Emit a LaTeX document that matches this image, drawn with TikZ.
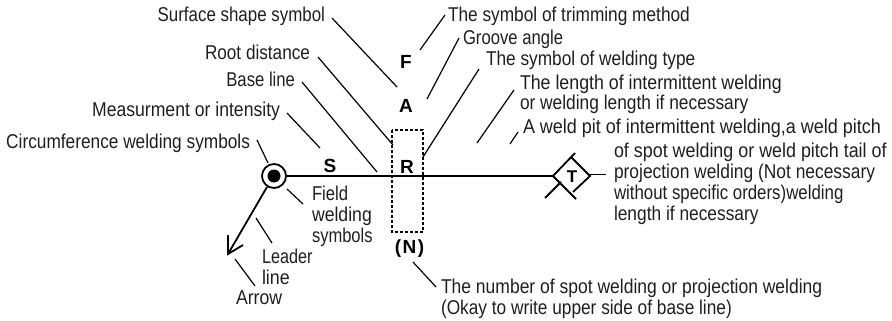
\documentclass[tikz,border=0pt]{standalone}
\usepackage{fontspec}
\usepackage{graphicx}
\setmainfont[FakeStretch=0.81]{Liberation Sans}
\newfontfamily\symf[FakeStretch=1.0]{Liberation Sans}
\newcommand{\hs}[2]{\scalebox{#1}[1]{#2}}
\begin{document}
\begin{tikzpicture}[x=1pt,y=-1pt,
  lbl/.style={inner sep=0pt,outer sep=0pt,anchor=base west,font=\fontsize{20}{22}\selectfont,text=black!88},
  lblr/.style={lbl,anchor=base east},
  sym/.style={inner sep=0pt,outer sep=0pt,anchor=base,font=\symf\bfseries\fontsize{19}{20}\selectfont},
  conn/.style={line width=1.2pt,line cap=butt},
  heavy/.style={line width=1.8pt},
  dashbox/.style={line width=1.1pt,dash pattern=on 3pt off 2pt}]
\useasboundingbox (0,0) rectangle (892,321);
% labels
\node[lblr] (surf) at (325,22) {\hs{1.044}{Surface shape symbol}};
\node[lblr] (root) at (310,60) {\hs{1.06}{Root distance}};
\node[lblr] (base) at (295,86) {\hs{1.03}{Base line}};
\node[lblr] (meas) at (280,116) {\hs{1.087}{Measurment or intensity}};
\node[lblr] (circ) at (250,148) {\hs{1.066}{Circumference welding symbols}};
\node[lbl] (trim) at (448,22) {\hs{1.066}{The symbol of trimming method}};
\node[lbl] (groove) at (463,45) {\hs{1.03}{Groove angle}};
\node[lbl] (wtype) at (486,66) {\hs{1.066}{The symbol of welding type}};
\node[lbl] (len1) at (520,90) {\hs{1.097}{The length of intermittent welding}};
\node[lbl] (len2) at (520,110) {\hs{1.07}{or welding length if necessary}};
\node[lbl] (pit1) at (523,133) {\hs{1.11}{A weld pit of intermittent welding,a weld pitch}};
\node[lbl] (pit2) at (614,157) {\hs{1.105}{of spot welding or weld pitch tail of}};
\node[lbl] (pit3) at (614,178) {\hs{1.074}{projection welding (Not necessary}};
\node[lbl] (pit4) at (614,199) {\hs{1.04}{without specific orders)welding}};
\node[lbl] (pit5) at (614,220) {\hs{1.07}{length if necessary}};
\node[lbl] (num1) at (441,293) {\hs{1.08}{The number of spot welding or projection welding}};
\node[lbl] (num2) at (441,314) {\hs{1.066}{(Okay to write upper side of base line)}};
\node[lbl] (fld1) at (312,200) {\hs{1.03}{Field}};
\node[lbl] (fld2) at (312,221) {\hs{1.09}{welding}};
\node[lbl] (fld3) at (312,242) {\hs{1.02}{symbols}};
\node[lbl] (lead1) at (262,263) {Leader};
\node[lbl] (lead2) at (262,284) {\hs{1.1}{line}};
\node[lbl] (arw) at (236,304) {\hs{1.09}{Arrow}};
% symbols
\node[sym] (F) at (406,69) {F};
\node[sym] (A) at (406,112) {A};
\node[sym] (R) at (407,173) {R};
\node[sym] (S) at (330,172) {S};
\node[sym] (N) at (409.5,253) {(\kern1.5pt N\kern1.5pt)};
\node[sym,font=\symf\bfseries\fontsize{17}{20}\selectfont] (T) at (572,182) {T};
% weld symbol at left end
\node[circle,draw,line width=1.8pt,minimum size=24pt,inner sep=0pt] (ring) at (274,176) {};
\node[circle,fill=black,minimum size=13pt,inner sep=0pt] (dot) at (274,176) {};
\coordinate (dl) at (553,176);
\coordinate (dr) at (590,176);
\coordinate (lt) at (228,254);
\draw[heavy] (ring) -- (dl);
\draw[heavy] (267,187) -- (lt);
\draw[heavy] (228,235) -- (lt) -- (243,245);
% diamond tail
\draw[heavy] (575,153) -- (dl) -- (576,199);
\draw[heavy] (571,157) -- (dr) -- (573,192);
\draw[heavy] (545,198) -- (561,182);
\draw[conn] (590,174.5) -- (606,174.5);
% dashed box
\draw[dashbox] (392,130) rectangle (423,232);
% connectors
\draw[conn] (332,18) -- (397,87);
\draw[conn] (318,57) -- (393,145);
\draw[conn] (302,82) -- (377,172);
\draw[conn] (287,113) -- (320,148);
\draw[conn] (257,140) -- (268,163);
\draw[conn] (445,15) -- (420,50);
\draw[conn] (459,38) -- (427,99);
\draw[conn] (479,69) -- (423,157);
\draw[conn] (514,90) -- (477,143);
\draw[conn] (518,132) -- (510,144);
\draw[conn] (287,189) -- (303,204);
\draw[conn] (256,218) -- (272,243);
\draw[conn] (235,259) -- (255,286);
\draw[conn] (413,262) -- (436,287);
\end{tikzpicture}
\end{document}
